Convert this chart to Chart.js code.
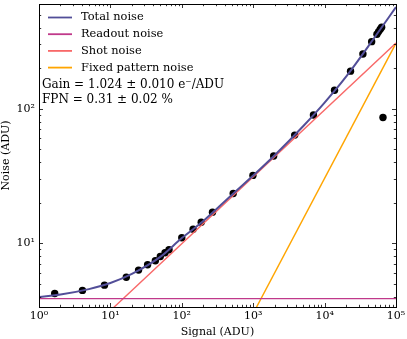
<!DOCTYPE html>
<html>
<head>
<meta charset="utf-8">
<script src="https://cdn.jsdelivr.net/npm/chart.js@4"></script>
<style>
  html, body { margin: 0; padding: 0; background: #fff; }
  canvas { display: block; }
</style>
</head>
<body>
<canvas id="ptc" width="407" height="339"></canvas>
<script>
// measured points (signal vs noise, both in ADU)
const signalADU = [1.66, 4.06, 8.26, 16.7, 24.8, 33.2, 42.6, 50, 58.2, 66.2, 100, 144, 187, 269, 525, 991, 1935, 3812, 6980, 13770, 23100, 34400, 45600, 54100, 57100, 60200, 63000, 65700];
const noiseADU = [4.22, 4.45, 4.87, 5.58, 6.30, 6.90, 7.39, 7.96, 8.48, 8.93, 10.97, 12.7, 14.3, 17.0, 23.4, 31.9, 44.4, 63.6, 89.6, 137, 190, 255, 315, 357, 374, 389, 403, 86];

// model curves
const totalX = [1, 2, 5, 10, 20, 50, 100, 200, 500, 1000, 2000, 5000, 10000, 20000, 50000, 100000];
const totalY = [3.98, 4.15, 4.55, 5.05, 5.9, 7.9, 10.9, 14.6, 22.8, 31.8, 45, 74, 111, 173, 338, 570];
const readoutX = [1, 100000];
const readoutY = [3.86, 3.86];
const shotX = [10, 100000];
const shotY = [3.15, 307];
const fpnX = [1000, 100000];
const fpnY = [3.0, 307];

const xTickLabels = {1: '10⁰', 10: '10¹', 100: '10²', 1000: '10³', 10000: '10⁴', 100000: '10⁵'};
const yTickLabels = {10: '10¹', 100: '10²'};
const fitText = ['Gain = 1.024 ± 0.010 e⁻/ADU', 'FPN = 0.31 ± 0.02 %'];

const FONT = "'DejaVu Serif', serif";

function pts(xs, ys) {
    return xs.map((x, i) => ({x: x, y: ys[i]}));
}

function mantissa(v) {
    const e = Math.floor(Math.log10(v) + 1e-9);
    const m = v / Math.pow(10, e);
    if (Math.abs(m - Math.round(m)) > 1e-6) return null;
    return Math.round(m);
}

// inward ticks on all four sides plus the frame
const frameTicks = {
    id: 'frameTicks',
    afterDatasetsDraw(chart) {
        const {ctx, chartArea: a, scales} = chart;
        ctx.save();
        ctx.strokeStyle = '#000';
        ctx.lineWidth = 0.8;
        ctx.beginPath();
        scales.x.ticks.forEach(t => {
            const m = mantissa(t.value);
            if (m === null) return;
            const len = m === 1 ? 4 : 2.2;
            const px = Math.round(scales.x.getPixelForValue(t.value)) + 0.5;
            ctx.moveTo(px, a.bottom); ctx.lineTo(px, a.bottom - len);
            ctx.moveTo(px, a.top); ctx.lineTo(px, a.top + len);
        });
        scales.y.ticks.forEach(t => {
            const m = mantissa(t.value);
            if (m === null) return;
            const len = m === 1 ? 4 : 2.2;
            const py = Math.round(scales.y.getPixelForValue(t.value)) + 0.5;
            ctx.moveTo(a.left, py); ctx.lineTo(a.left + len, py);
            ctx.moveTo(a.right, py); ctx.lineTo(a.right - len, py);
        });
        ctx.stroke();
        ctx.lineWidth = 1;
        ctx.strokeRect(a.left + 0.5, a.top + 0.5, a.right - a.left, a.bottom - a.top);
        ctx.restore();
    }
};

// legend and fit results inside the plot
const insideLegend = {
    id: 'insideLegend',
    afterDraw(chart) {
        const {ctx, chartArea: a} = chart;
        ctx.save();
        ctx.font = '11.4px ' + FONT;
        ctx.textBaseline = 'middle';
        ctx.fillStyle = '#000';
        let y = a.top + 13.5;
        chart.data.datasets.forEach(ds => {
            if (!ds.label) return;
            ctx.strokeStyle = ds.borderColor;
            ctx.lineWidth = 1.8;
            ctx.beginPath();
            ctx.moveTo(a.left + 9, y);
            ctx.lineTo(a.left + 33, y);
            ctx.stroke();
            ctx.fillText(ds.label, a.left + 42, y);
            y += 16.7;
        });
        y += 1;
        ctx.font = '12px ' + FONT;
        fitText.forEach((s, i) => {
            ctx.fillText(s, a.left + 3, y + i * 15);
        });
        ctx.restore();
    }
};

new Chart(document.getElementById('ptc'), {
    type: 'line',
    data: {
        datasets: [
            {label: 'Total noise', data: pts(totalX, totalY), borderColor: '#524e98', borderWidth: 2, pointRadius: 0, cubicInterpolationMode: 'monotone'},
            {label: 'Readout noise', data: pts(readoutX, readoutY), borderColor: '#c0398a', borderWidth: 1.3, pointRadius: 0},
            {label: 'Shot noise', data: pts(shotX, shotY), borderColor: '#f86868', borderWidth: 1.4, pointRadius: 0},
            {label: 'Fixed pattern noise', data: pts(fpnX, fpnY), borderColor: '#ffa500', borderWidth: 1.4, pointRadius: 0},
            {data: pts(signalADU, noiseADU), showLine: false, pointRadius: 3.7, pointBackgroundColor: '#000', pointBorderWidth: 0, borderColor: '#000'}
        ]
    },
    options: {
        responsive: false,
        animation: false,
        devicePixelRatio: 1,
        layout: {padding: {top: 3, right: 11, left: 0, bottom: 0}},
        plugins: {legend: {display: false}, tooltip: {enabled: false}},
        scales: {
            x: {
                type: 'logarithmic',
                min: 1,
                max: 100000,
                grid: {display: false, drawTicks: false},
                border: {display: false},
                ticks: {
                    autoSkip: false, maxRotation: 0, padding: 3, color: '#000',
                    font: {family: FONT, size: 11},
                    callback: v => xTickLabels[v] || ''
                },
                title: {display: true, text: 'Signal (ADU)', color: '#000', font: {family: FONT, size: 11}, padding: {top: 0, bottom: 0}},
                afterFit: s => { s.height = 32; s.paddingLeft = 0; s.paddingRight = 0; }
            },
            y: {
                type: 'logarithmic',
                min: 3.35,
                max: 600,
                grid: {display: false, drawTicks: false},
                border: {display: false},
                ticks: {
                    autoSkip: false, padding: 4, color: '#000',
                    font: {family: FONT, size: 11},
                    callback: v => yTickLabels[v] || ''
                },
                title: {display: true, text: 'Noise (ADU)', color: '#000', font: {family: FONT, size: 11}, padding: {top: 0, bottom: 0}},
                afterFit: s => { s.width = 39; s.paddingTop = 0; s.paddingBottom = 0; }
            }
        }
    },
    plugins: [frameTicks, insideLegend]
});
</script>
</body>
</html>
